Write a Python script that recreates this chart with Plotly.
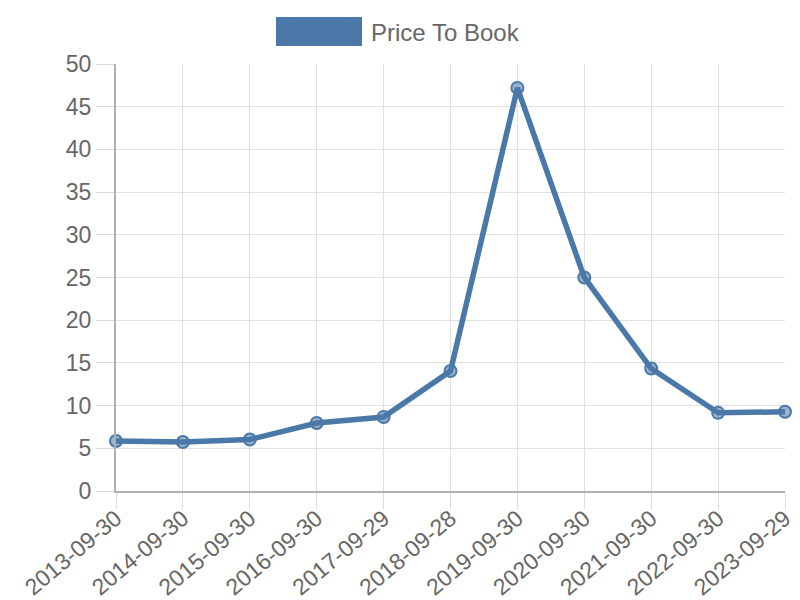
import plotly.graph_objects as go

dates = ["2013-09-30", "2014-09-30", "2015-09-30", "2016-09-30", "2017-09-29",
         "2018-09-28", "2019-09-30", "2020-09-30", "2021-09-30", "2022-09-30", "2023-09-29"]
price_to_book = [5.85, 5.74, 6.03, 7.96, 8.67, 14.05, 47.2, 25.0, 14.34, 9.15, 9.28]
series_name = "Price To Book"

color = "#4a78a8"
font = "Liberation Sans, Arial, sans-serif"

# page body has an 8px margin, so figure coordinates = screen coordinates - 8
L, T, R, B = 108, 56, 23, 117
plot_w = 800 - L - R

fig = go.Figure()
fig.add_trace(go.Scatter(
    x=dates, y=price_to_book, name=series_name, mode="lines+markers",
    line=dict(color=color, width=5.5),
    marker=dict(size=12, color="rgba(74,120,168,0.55)", line=dict(color=color, width=2)),
    cliponaxis=False, showlegend=False,
))

fig.update_layout(
    width=800, height=600,
    margin=dict(l=L, r=R, t=T, b=B),
    paper_bgcolor="white", plot_bgcolor="white",
    font=dict(family=font, color="#666666", size=23),
    xaxis=dict(type="category", range=[0, 10], tickangle=-40, automargin=False,
               showgrid=True, gridcolor="#e0e0e0", gridwidth=1,
               showline=True, linecolor="#b0b0b0", linewidth=2,
               ticks="outside", ticklen=16, tickcolor="#dcdcdc",
               ticklabelstandoff=-13,
               tickfont=dict(size=23, color="#666666")),
    yaxis=dict(range=[0, 50], dtick=5, showgrid=True, gridcolor="#e0e0e0", automargin=False,
               showline=True, linecolor="#b0b0b0", linewidth=2,
               ticks="outside", ticklen=18, tickcolor="#dcdcdc",
               zeroline=False, tickfont=dict(size=23, color="#666666")),
    shapes=[dict(type="rect", xref="paper", yref="paper", xsizemode="pixel", ysizemode="pixel",
                 xanchor=0.0, yanchor=1.0,
                 x0=268 - L, x1=354 - L, y0=(T - 9), y1=(T - 38),
                 fillcolor=color, line=dict(width=0))],
    annotations=[dict(text=series_name, xref="paper", yref="paper",
                      x=(361 - L) / plot_w, y=1.0, yshift=(T - 24),
                      xanchor="left", yanchor="middle", showarrow=False,
                      font=dict(size=24, color="#666666", family=font))],
)

fig.write_html("out.html")
